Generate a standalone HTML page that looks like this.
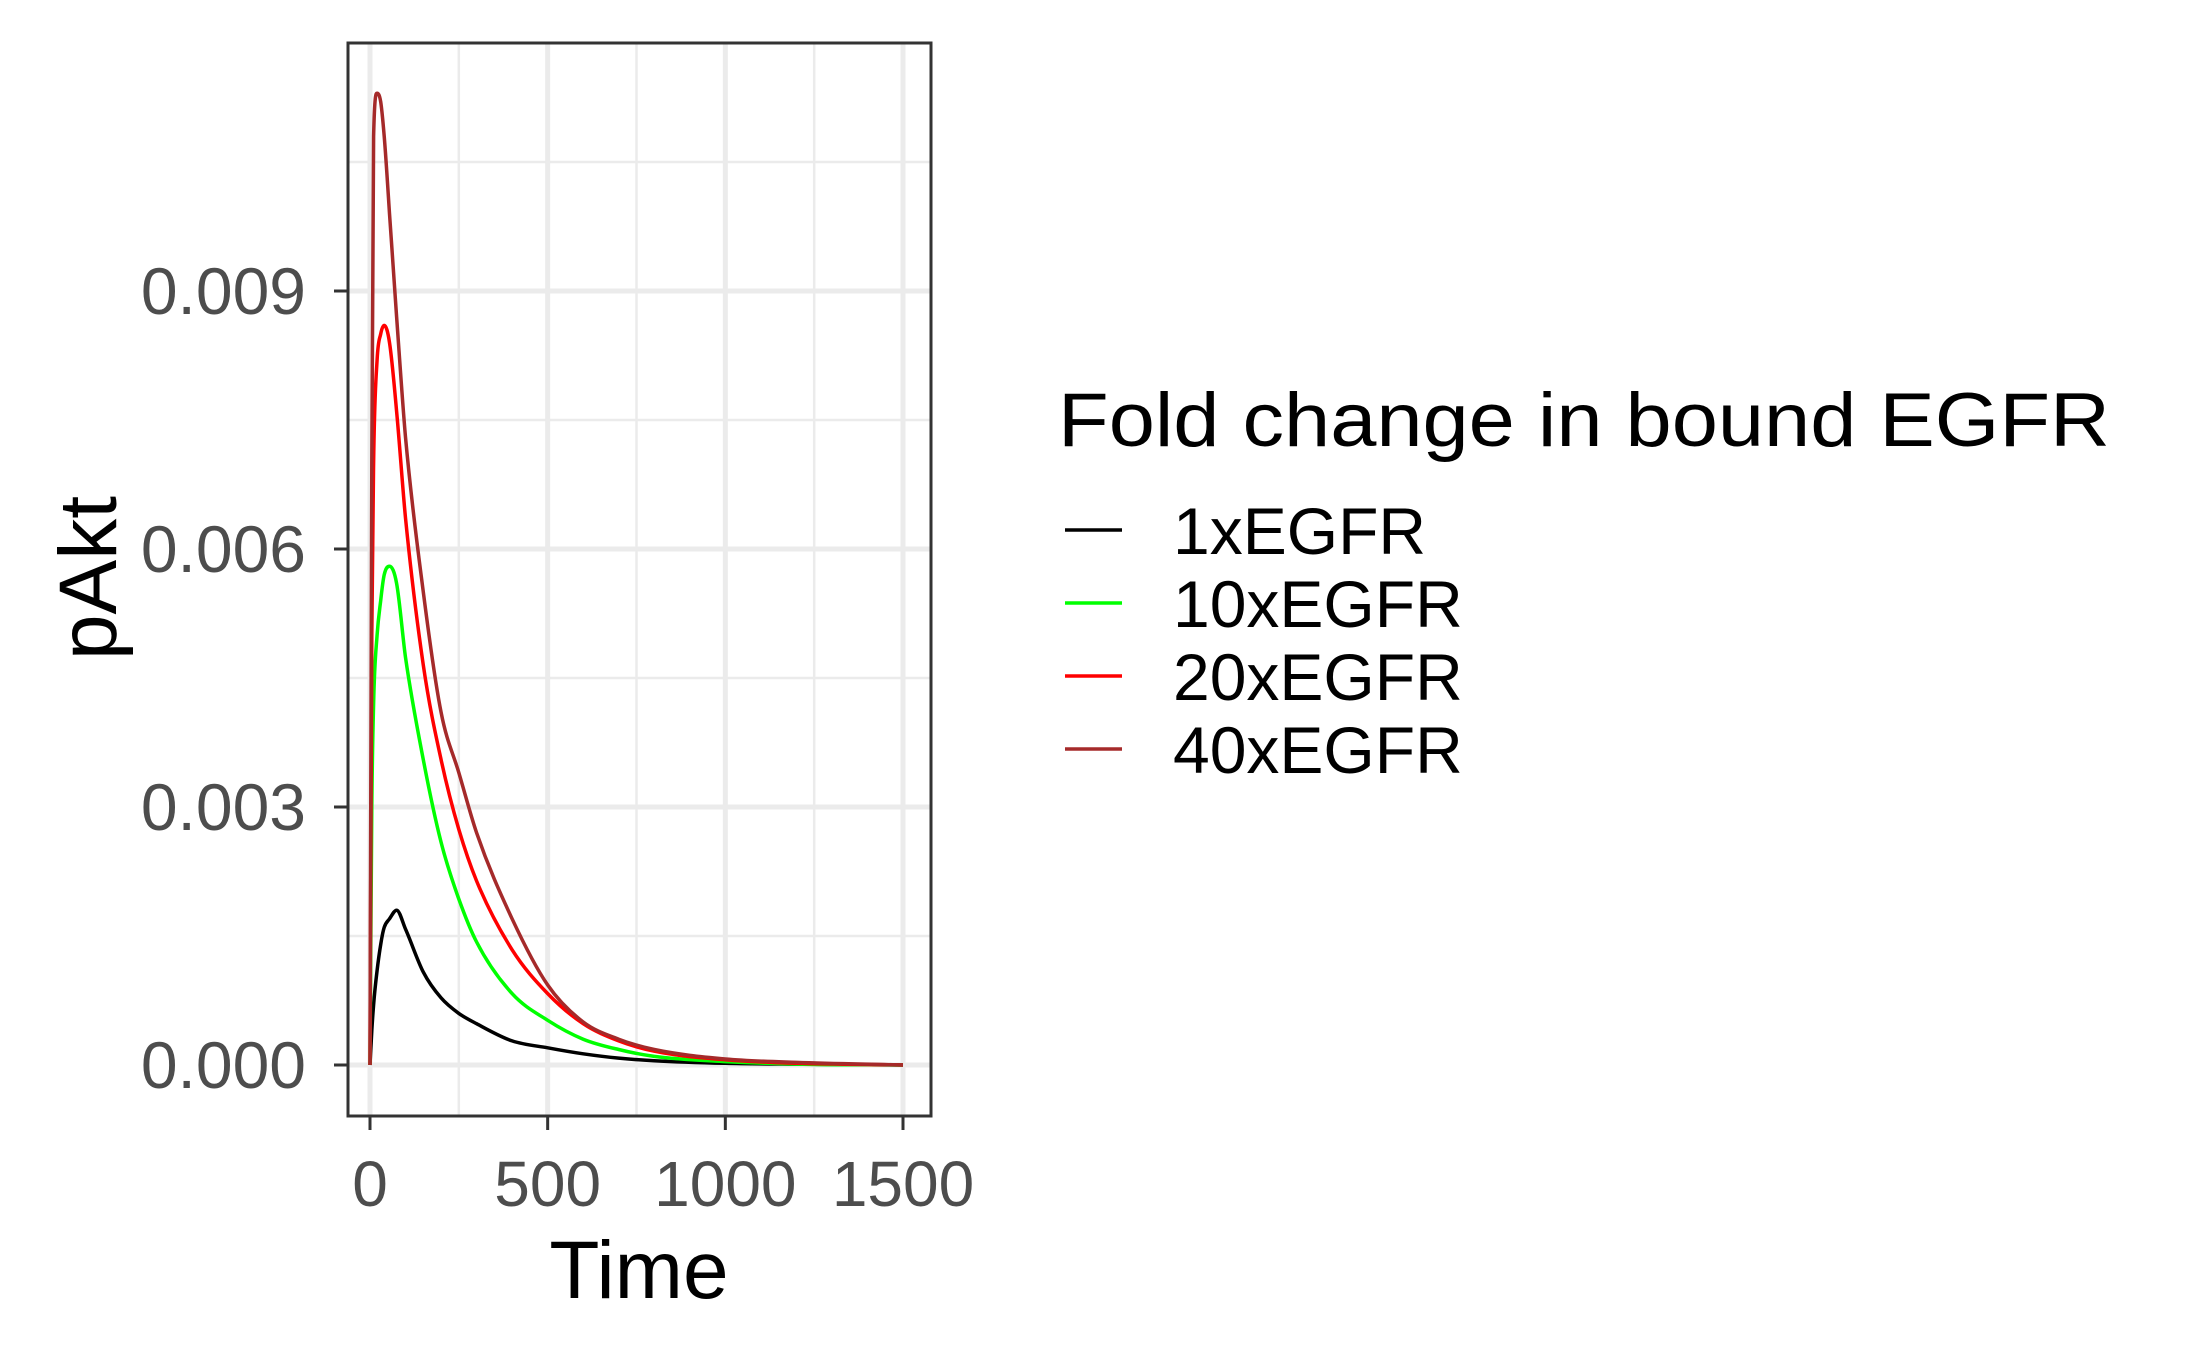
<!DOCTYPE html>
<html><head><meta charset="utf-8"><style>
html,body{margin:0;padding:0;background:#fff;}
svg{display:block;font-family:"Liberation Sans",Arial,sans-serif;}
</style></head><body>
<svg id="chart" width="2187" height="1350" viewBox="0 0 2187 1350">
<rect x="0" y="0" width="2187" height="1350" fill="#fff"/>
<g id="grid"></g>
<g id="series"></g>
<rect x="348" y="43" width="583" height="1073" fill="none" stroke="#333" stroke-width="3"/>
<g id="axes"></g>
<text x="639" y="1298" font-size="82" text-anchor="middle" fill="#000">Time</text>
<text transform="translate(116,578) rotate(-90)" font-size="82" text-anchor="middle" fill="#000">pAkt</text>
<g id="legend">
<text x="1058" y="446" font-size="76" textLength="1052" lengthAdjust="spacingAndGlyphs" fill="#000">Fold change in bound EGFR</text>
</g>
</svg>
<script>
const times = [0,5,10,20,30,40,55,75,100,150,200,250,300,400,500,600,700,800,1000,1200,1500];
const s1x  = [0,0.0004,0.0007,0.0011,0.0014,0.0016,0.0017,0.0018,0.00158,0.00108,0.00078,0.00060,0.00048,0.00028,0.0002,0.00013,0.00008,0.00005,0.00002,0.00001,0];
const s10x = [0,0.003,0.0042,0.0050,0.0054,0.0057,0.0058,0.0056,0.00474,0.00355,0.00259,0.00193,0.00143,0.00083,0.00052,0.0003,0.00018,0.0001,0.00004,0.00001,0];
const s20x = [0,0.005,0.0070,0.0082,0.0085,0.0086,0.0084,0.0076,0.00636,0.00465,0.00355,0.00274,0.00214,0.00134,0.00083,0.00048,0.00028,0.00016,0.00006,0.00002,0];
const s40x = [0,0.007,0.0108,0.0113,0.0112,0.0108,0.0099,0.0087,0.0073,0.0055,0.0041,0.0034,0.0027,0.0017,0.00093,0.0005,0.0003,0.00018,0.00007,0.00003,0];
const seriesNames = ["1xEGFR","10xEGFR","20xEGFR","40xEGFR"];
const seriesColors = ["#000000","#00ff00","#ff0000","#a52a2a"];
const xTicks = [0,500,1000,1500];
const xTickLabels = ["0","500","1000","1500"];
const xMinor = [250,750,1250];
const yTicks = [0,0.003,0.006,0.009];
const yTickLabels = ["0.000","0.003","0.006","0.009"];
const yMinor = [0.0015,0.0045,0.0075,0.0105];

const NS="http://www.w3.org/2000/svg";
const X = t => 370 + t*(903-370)/1500;
const Y = v => 1065 - v*(1065-291)/0.009;
function mk(tag, attrs, parent){const e=document.createElementNS(NS,tag);for(const k in attrs)e.setAttribute(k,attrs[k]);parent.appendChild(e);return e;}
function smoothPath(px,py){
  const n=px.length, m=new Array(n), d=[];
  for(let i=0;i<n-1;i++) d.push((py[i+1]-py[i])/(px[i+1]-px[i]));
  m[0]=d[0]; m[n-1]=d[n-2];
  for(let i=1;i<n-1;i++){ m[i]=(d[i-1]*d[i]<=0)?0:(d[i-1]+d[i])/2; }
  for(let i=0;i<n-1;i++){ if(d[i]===0){m[i]=0;m[i+1]=0;continue;} const a=m[i]/d[i], b=m[i+1]/d[i], s=a*a+b*b; if(s>9){const t=3/Math.sqrt(s); m[i]=t*a*d[i]; m[i+1]=t*b*d[i];} }
  let p='M'+px[0].toFixed(1)+','+py[0].toFixed(1);
  for(let i=0;i<n-1;i++){ const h=(px[i+1]-px[i])/3;
    p+=' C'+(px[i]+h).toFixed(1)+','+(py[i]+m[i]*h).toFixed(1)+' '+(px[i+1]-h).toFixed(1)+','+(py[i+1]-m[i+1]*h).toFixed(1)+' '+px[i+1].toFixed(1)+','+py[i+1].toFixed(1);}
  return p;
}
const grid=document.getElementById('grid'), axes=document.getElementById('axes'), ser=document.getElementById('series'), leg=document.getElementById('legend');
mk('rect',{x:348,y:43,width:583,height:1073,fill:'#fff'},grid);
xMinor.forEach(t=>{const l=mk('line',{x1:X(t),x2:X(t),y1:43,y2:1116,stroke:'#ebebeb','stroke-width':2.5},grid);

});
yMinor.forEach(v=>{const l=mk('line',{x1:348,x2:931,y1:Y(v),y2:Y(v),stroke:'#ebebeb','stroke-width':2.5},grid);

});
xTicks.forEach((t,i)=>{const l=mk('line',{x1:X(t),x2:X(t),y1:43,y2:1116,stroke:'#ebebeb','stroke-width':5},grid);


const tk=mk('line',{x1:X(t),x2:X(t),y1:1116,y2:1130,stroke:'#333','stroke-width':3},axes);


const tx=mk('text',{x:X(t),y:1206,'font-size':64,'text-anchor':'middle',fill:'#4d4d4d'},axes);tx.textContent=xTickLabels[i];

});
yTicks.forEach((v,i)=>{const l=mk('line',{x1:348,x2:931,y1:Y(v),y2:Y(v),stroke:'#ebebeb','stroke-width':5},grid);


const tk=mk('line',{x1:334,x2:348,y1:Y(v),y2:Y(v),stroke:'#333','stroke-width':3},axes);


const tx=mk('text',{x:306,y:Y(v)+23,'font-size':66,'text-anchor':'end',fill:'#4d4d4d'},axes);tx.textContent=yTickLabels[i];

});
const allSeries=[s1x,s10x,s20x,s40x];
allSeries.forEach((s,i)=>{
 const d=smoothPath(times.map(X), s.map(Y));
 const p=mk('path',{d:d,fill:'none',stroke:seriesColors[i],'stroke-width':3.5,'stroke-linejoin':'round'},ser);
 
 
 const cy=530+i*73;
 const k=mk('line',{x1:1065,x2:1122,y1:cy,y2:cy,stroke:seriesColors[i],'stroke-width':3.5},leg);
 
 
 const t=mk('text',{x:1173,y:cy+24,'font-size':66,fill:'#000'},leg);t.textContent=seriesNames[i];
 
 
});
</script>
</body></html>
